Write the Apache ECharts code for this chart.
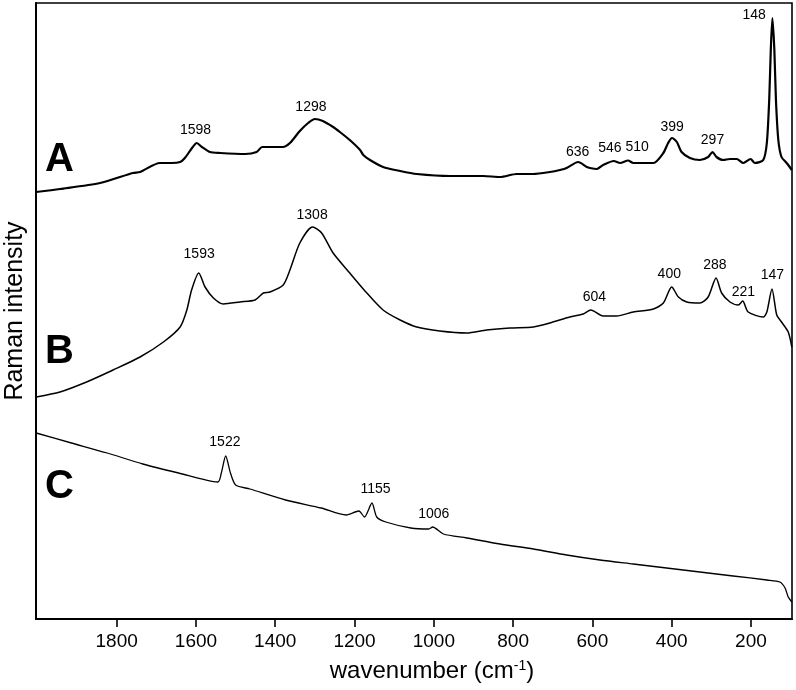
<!DOCTYPE html>
<html><head><meta charset="utf-8">
<script src="https://cdn.jsdelivr.net/npm/echarts@6/dist/echarts.min.js"></script>
<style>html,body{margin:0;padding:0;background:#fff}#c{width:796px;height:690px}</style>
</head><body><div id="c"></div>
<script>
// x: wavenumber (cm-1), y: relative Raman intensity (stacked, arbitrary units)
const wavenumbersA = [2003,1943,1842,1759,1741,1691,1661,1640,1628,1610,1598,1585,1565,1539,1476,1447,1433,1401,1381,1363,1338,1317,1300,1280,1254,1237,1212,1186,1178,1161,1128,1085,1043,959,875,833,791,749,707,682,665,636,614,606,589,573,546,530,510,497,472,446,421,409,399,387,375,354,329,308,297,287,270,253,236,219,201,190,169,160,154,150,146,141,137,131,123,110,97];
const intensityA = [427,430,436,446,447,456,456,457,461,471,476,472,467,466,465,467,472,472,472,476,488,496,500,498,492,487,479,469,464,459,452,448,445,443,443,442,445,445,447,449,451,457,452,451,450,454,458,456,458.5,456,456,456,466,476,481,477,467,461,459,462,467,462,459,460,460,456,460,456,459,476,519,569,601,569,519,479,462,456,449];

const wavenumbersB = [2003,1943,1876,1809,1741,1682,1640,1623,1611,1593,1577,1556,1531,1489,1451,1430,1413,1380,1363,1338,1306,1283,1254,1212,1169,1128,1085,1043,985,917,867,808,749,707,657,623,604,573,539,497,446,421,400,383,362,329,308,288,274,253,232,221,207,169,160,147,135,123,106,97];
const intensityB = [222,227,237,249,262,277,292,309,329,346,332,321,315,317,319,326,327,334,349,376,392,386,366,346,326,309,299,292,288,286,289,291,292,296,302,305,309,303,303,307,310,316,332,322,317,316,322,341,326,317,314,318,307,302,307,330,304,297,287,272];

const wavenumbersC = [2003,1914,1824,1734,1644,1545,1536,1525,1513,1500,1464,1374,1284,1221,1189,1175,1156,1144,1121,1058,1013,1003,976,917,833,749,665,581,497,413,329,245,160,127,114,106,97];
const intensityC = [186,176,166,155,146,137,146,163,146,134,130,119,111,104,108,102,116,102,97,91,90,92,85,81,75,70,64,59,55,51,47,43,39,37,31,22,17];

// peak annotations: text, and anchor (wavenumber, intensity)
const peakTextA = ['1598','1298','636','546','510','399','297','148'];
const peakWnA   = [1601,1310,637,556,487,399,297,192];
const peakIA    = [489,512,467,471,472,492,479,604];
const peakTextB = ['1593','1308','604','400','288','221','147'];
const peakWnB   = [1592,1307,595,406,291,219,146];
const peakIB    = [365,404,322,345,354,327,344];
const peakTextC = ['1522','1155','1006'];
const peakWnC   = [1527,1147,1000];
const peakIC    = [177,130,105];

const tickValues = [200,400,600,800,1000,1200,1400,1600,1800];
const panelLetters = ['A','B','C'];

const FONT = 'Liberation Sans, Arial, sans-serif';
function zip(a,b){return a.map((v,i)=>[v,b[i]]);}
function marks(t,w,y){
  return {
    symbol:'circle', symbolSize:0, silent:true,
    label:{show:true, position:'inside', color:'#000', fontSize:14, fontFamily:FONT, formatter:p=>p.value},
    data:t.map((s,i)=>({coord:[w[i],y[i]], value:s}))
  };
}
function line(name,data,width,m){
  return {type:'line', name, data, showSymbol:false, smooth:0.25,
    lineStyle:{color:'#000', width}, markPoint:m, z:3};
}
const chart = echarts.init(document.getElementById('c'), null, {renderer:'canvas'});
chart.setOption({
  animation:false,
  backgroundColor:'#fff',
  grid:{left:36, right:4, top:3, bottom:71, containLabel:false, outerBoundsMode:'none',
    show:true, borderColor:'#000', borderWidth:1.6, backgroundColor:'transparent'},
  xAxis:{
    type:'value', inverse:true, min:96.5, max:2003.5,
    splitLine:{show:false},
    axisLine:{show:true, onZero:false, lineStyle:{color:'#000', width:2}},
    axisTick:{show:true, inside:false, length:8, lineStyle:{color:'#000', width:1.6}, customValues:tickValues},
    axisLabel:{color:'#000', fontSize:19, fontFamily:FONT, margin:13, customValues:tickValues, formatter:v=>String(v)},
    name:'wavenumber (cm{s|-1})', nameLocation:'middle', nameGap:40,
    nameTextStyle:{color:'#000', fontSize:24, fontFamily:FONT, padding:[0,0,0,36],
      rich:{s:{fontSize:14, fontFamily:FONT, color:'#000', verticalAlign:'top', padding:[0,0,10,0]}}}
  },
  yAxis:{
    type:'value', min:0, max:616,
    splitLine:{show:false}, axisTick:{show:false}, axisLabel:{show:false},
    axisLine:{show:true, lineStyle:{color:'#000', width:2}},
    name:'Raman intensity', nameLocation:'middle', nameGap:8,
    nameTextStyle:{color:'#000', fontSize:25, fontFamily:FONT, padding:[0,0,0,0]}
  },
  graphic:[
    {type:'text', left:45, top:140, style:{text:panelLetters[0], font:'bold 40px '+FONT, fill:'#000'}},
    {type:'text', left:45, top:332, style:{text:panelLetters[1], font:'bold 40px '+FONT, fill:'#000'}},
    {type:'text', left:45, top:467, style:{text:panelLetters[2], font:'bold 40px '+FONT, fill:'#000'}}
  ],
  series:[
    line('A', zip(wavenumbersA,intensityA), 2.2, marks(peakTextA,peakWnA,peakIA)),
    line('B', zip(wavenumbersB,intensityB), 1.5, marks(peakTextB,peakWnB,peakIB)),
    line('C', zip(wavenumbersC,intensityC), 1.3, marks(peakTextC,peakWnC,peakIC))
  ]
});
</script></body></html>
